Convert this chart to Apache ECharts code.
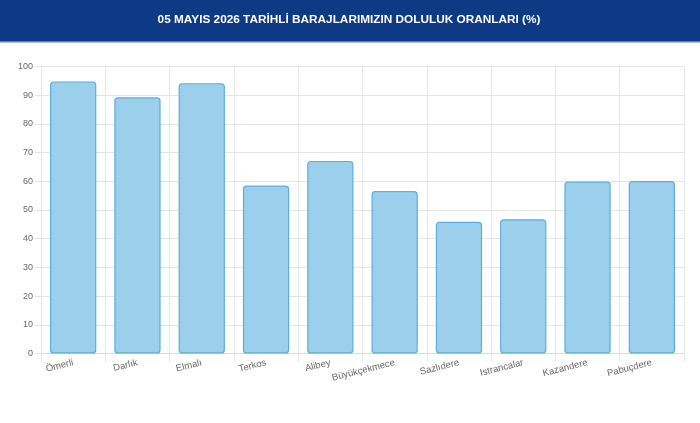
<!DOCTYPE html>
<html>
<head>
<meta charset="utf-8">
<script src="https://cdn.jsdelivr.net/npm/echarts@6/dist/echarts.min.js"></script>
<style>
  html, body { margin: 0; padding: 0; background: #fff; }
  #chart { width: 700px; height: 423px; }
</style>
</head>
<body>
<div id="chart"></div>
<script>
const title_text = '05 MAYIS 2026 TARİHLİ BARAJLARIMIZIN DOLULUK ORANLARI (%)'
const dams = ['Ömerli', 'Darlık', 'Elmalı', 'Terkos', 'Alibey', 'Büyükçekmece', 'Sazlıdere', 'Istrancalar', 'Kazandere', 'Pabuçdere']
const fill_rates = [94.8, 89.3, 94.2, 58.5, 67.1, 56.6, 45.9, 46.8, 59.9, 60.1]
const y_min = 0
const y_max = 100
const y_step = 10

const grid_color = '#e6e6e6'
const label_color = '#666'

const chart = echarts.init(document.getElementById('chart'))

chart.setOption({
    animation: false,
    graphic: [
        {
            type: 'rect',
            shape: { x: 0, y: 0, width: 700, height: 41 },
            style: { fill: '#0e3a85' }
        },
        {
            type: 'rect',
            shape: { x: 0, y: 41, width: 700, height: 1.5 },
            style: { fill: '#5c80bd' }
        },
        {
            type: 'text',
            x: 349,
            y: 19.5,
            style: {
                text: title_text,
                fill: '#fff',
                font: 'bold 11.8px "Liberation Sans", Arial, sans-serif',
                align: 'center',
                verticalAlign: 'middle'
            }
        }
    ],
    grid: { left: 41, right: 16, top: 66.5, bottom: 69.5 },
    xAxis: {
        type: 'category',
        data: dams,
        boundaryGap: true,
        axisLine: { show: true, lineStyle: { color: '#d9d9d9' } },
        axisTick: { show: true, length: 8, lineStyle: { color: grid_color } },
        splitLine: { show: true, lineStyle: { color: grid_color } },
        axisLabel: {
            color: label_color,
            fontSize: 9.5,
            fontFamily: '"Liberation Sans", Arial, sans-serif',
            rotate: 14,
            margin: 9,
            interval: 0
        }
    },
    yAxis: {
        type: 'value',
        min: y_min,
        max: y_max,
        interval: y_step,
        axisLine: { show: true, lineStyle: { color: grid_color } },
        axisTick: { show: true, length: 6, lineStyle: { color: grid_color } },
        splitLine: { show: true, lineStyle: { color: grid_color } },
        axisLabel: {
            color: label_color,
            fontSize: 9,
            fontFamily: '"Liberation Sans", Arial, sans-serif',
            margin: 8
        }
    },
    series: [{
        type: 'bar',
        data: fill_rates,
        barWidth: '72%',
        itemStyle: {
            color: '#9bcfeb',
            borderColor: '#5daee0',
            borderWidth: 1.2,
            borderRadius: 3
        }
    }]
})
</script>
</body>
</html>
